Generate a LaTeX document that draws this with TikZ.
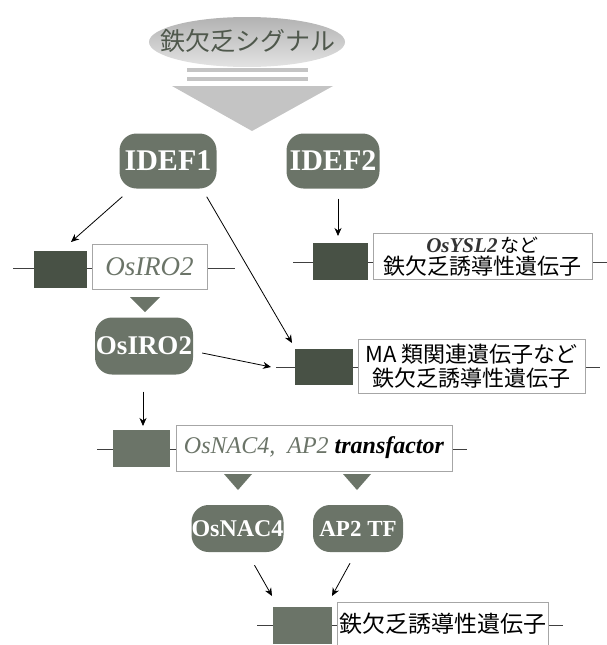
\documentclass[tikz,border=0pt]{standalone}
\usepackage{fontspec}
\setmainfont{Liberation Serif}
\newfontfamily\jp{Noto Sans CJK JP}
\usetikzlibrary{arrows.meta,shapes.geometric,calc}
\definecolor{nodeg}{HTML}{6B7468}
\definecolor{darkg}{HTML}{485145}
\definecolor{lightg}{HTML}{C4C4C4}
\definecolor{txtg}{HTML}{4F584C}
\tikzset{
  prot/.style={draw=none,fill=nodeg,rounded corners=17pt,text=white,font=\bfseries,inner sep=0pt},
  genebox/.style={draw=none,fill=darkg,inner sep=0pt},
  txtbox/.style={draw=gray!70,line width=0.8pt,fill=white,inner sep=0pt},
  conn/.style={line width=0.8pt,-{Stealth[length=8pt,width=7pt,inset=2.5pt]}},
  dna/.style={line width=0.7pt,draw=black!75},
  tri/.style={fill=nodeg}
}
\begin{document}
\begin{tikzpicture}[x=1pt,y=-1pt]
\useasboundingbox (0,0) rectangle (607,645);
% signal ellipse
\shade[top color=gray!60,bottom color=gray!22] (247,42) ellipse [x radius=98, y radius=25];
\node[font=\jp\fontsize{25}{25}\selectfont,text=txtg] (sig) at (248,41) {鉄欠乏シグナル};
\draw[lightg,line width=4pt] (187,70) -- (308,70);
\draw[lightg,line width=4pt] (187,79) -- (308,79);
\fill[lightg] (172,86) -- (333,86) -- (252,131) -- cycle;
% proteins
\node[prot,minimum width=97,minimum height=55,font=\bfseries\fontsize{30}{30}\selectfont] (idef1) at (168,161) {IDEF1};
\node[prot,minimum width=93,minimum height=55,font=\bfseries\fontsize{30}{30}\selectfont] (idef2) at (333,161) {IDEF2};
% OsIRO2 gene row
\coordinate (l1a) at (13,268); \coordinate (l1b) at (235,268);
\draw[dna] (l1a) -- (l1b);
\node[genebox,minimum width=53,minimum height=37] (g1) at (60.5,269.5) {};
\node[txtbox,minimum width=115,minimum height=45,font=\itshape\fontsize{27}{27}\selectfont,text=nodeg] (t1) at (149.5,266.5) {OsIRO2};
% OsYSL2 row
\coordinate (l2a) at (293,262); \coordinate (l2b) at (607,262);
\draw[dna] (l2a) -- (l2b);
\node[genebox,minimum width=55,minimum height=37] (g2) at (340.5,261.5) {};
\node[txtbox,minimum width=219,minimum height=46,align=center] (t2) at (482.5,256.5)
  {{\bfseries\itshape\fontsize{21}{21}\selectfont\color{black!80}OsYSL2}{\jp\fontsize{19}{19}\selectfont\,など}\\[2pt]{\jp\fontsize{22}{22}\selectfont 鉄欠乏誘導性遺伝子}};
% OsIRO2 protein
\fill[tri] (130,297) -- (160,297) -- (145,312) -- cycle;
\node[prot,minimum width=98,minimum height=57,font=\bfseries\fontsize{27}{27}\selectfont] (iro2) at (144,346) {OsIRO2};
% MA row
\coordinate (l3a) at (276,367); \coordinate (l3b) at (600,367);
\draw[dna] (l3a) -- (l3b);
\node[genebox,minimum width=58,minimum height=36] (g3) at (324,367) {};
\node[txtbox,minimum width=227,minimum height=54,align=center,font=\jp\fontsize{22}{24}\selectfont] (t3) at (471.5,366) {MA 類関連遺伝子など\\鉄欠乏誘導性遺伝子};
% OsNAC4 row
\coordinate (l4a) at (97,449); \coordinate (l4b) at (467,449);
\draw[dna] (l4a) -- (l4b);
\node[genebox,fill=nodeg,minimum width=57,minimum height=37] (g4) at (141.5,448.5) {};
\node[txtbox,minimum width=276,minimum height=46,font=\itshape\fontsize{24}{24}\selectfont] (t4) at (314,448) {\textcolor{nodeg}{OsNAC4,\ \ AP2} \textbf{transfactor}};
\fill[tri] (224,474) -- (252,474) -- (238,490) -- cycle;
\fill[tri] (343,474) -- (371,474) -- (357,490) -- cycle;
% OsNAC4 / AP2 proteins
\node[prot,minimum width=89,minimum height=47,font=\bfseries\fontsize{24}{24}\selectfont] (nac4) at (237.5,528.5) {OsNAC4};
\node[prot,minimum width=90,minimum height=47,font=\bfseries\fontsize{23}{23}\selectfont] (ap2) at (358,528.5) {AP2 TF};
% final row
\coordinate (l5a) at (257,625); \coordinate (l5b) at (563,625);
\draw[dna] (l5a) -- (l5b);
\node[genebox,fill=nodeg,minimum width=59,minimum height=37] (g5) at (302.5,625) {};
\node[txtbox,minimum width=211,minimum height=44,font=\jp\fontsize{23}{23}\selectfont] (t5) at (442.5,624) {鉄欠乏誘導性遺伝子};
% connectors
\coordinate (e1) at (71,242);
\draw[conn] ($(idef1.south west)+(3,8)$) -- (e1);
\coordinate (e2) at (292,343);
\draw[conn] ($(idef1.south east)+(-10,8)$) -- (e2);
\coordinate (e3) at (338,236);
\draw[conn] ($(idef2.south)+(5,10)$) -- (e3);
\coordinate (e4) at (271,367);
\draw[conn] ($(iro2.east)+(9,7)$) -- (e4);
\coordinate (e5) at (143,426);
\draw[conn] ($(iro2.south)+(-1,17)$) -- (e5);
\coordinate (e6) at (272,596);
\draw[conn] ($(nac4.south)+(17,13)$) -- (e6);
\coordinate (e7) at (332,596);
\draw[conn] ($(ap2.south)+(-8,11)$) -- (e7);
\end{tikzpicture}
\end{document}
